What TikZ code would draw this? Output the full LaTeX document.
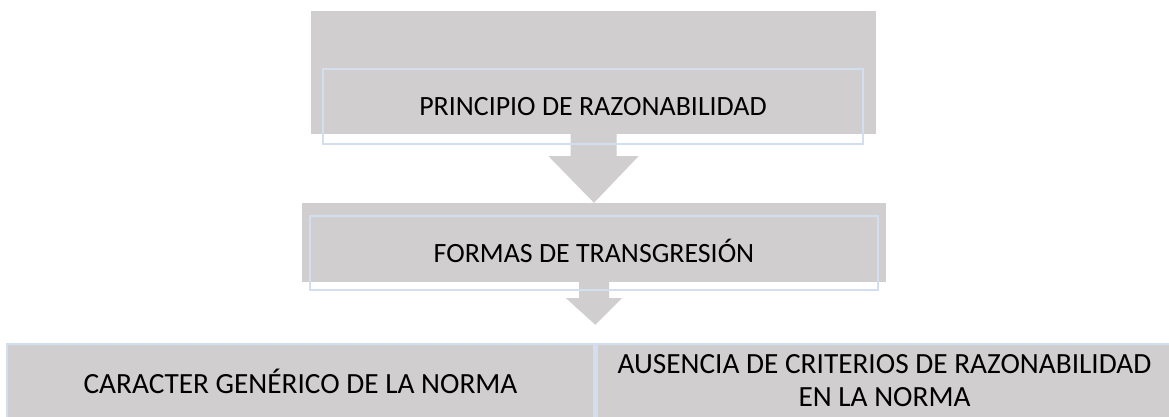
\documentclass[tikz,border=0pt]{standalone}
\usepackage{fontspec}
\setmainfont{Carlito}
\usetikzlibrary{positioning, calc}
\definecolor{boxgray}{HTML}{D0CECE}
\definecolor{lineblue}{HTML}{D3DEEE}
\tikzset{
  graybox/.style={fill=boxgray, draw=none, inner sep=0pt},
  textframe/.style={draw=lineblue, line width=2.5pt, inner sep=0pt, text height=18pt, text depth=0pt,
    font=\fontsize{27.9}{32}\selectfont},
  cellbox/.style={fill=boxgray, draw=lineblue, line width=2.5pt, inner sep=0pt, align=center,
    font=\fontsize{29.3}{33}\selectfont}
}

\begin{document}
\begin{tikzpicture}[x=1pt,y=-1pt]
\useasboundingbox (0,0) rectangle (1169,416);
% gray blocks
\node[graybox, minimum width=565pt, minimum height=123pt] (razon) at (593.5,72.5) {};
\node[graybox, minimum width=584pt, minimum height=79pt] (forma) at (594,242.5) {};
\node[cellbox, minimum width=587pt, minimum height=74pt] (cellleft) at (300.5,381) {CARACTER GENÉRICO DE LA NORMA};
\node[cellbox, minimum width=576pt, minimum height=74pt, right=0pt of cellleft] (cellright) {AUSENCIA DE CRITERIOS DE RAZONABILIDAD\\EN LA NORMA};
\coordinate (tip) at ($(cellleft.north east)+(0,-18)$);
% block arrows
\fill[boxgray] ($(razon.south)+(-23,0)$) -- ($(razon.south)+(23,0)$) -- ($(razon.south)+(23,22)$) -- ($(razon.south)+(45,22)$)
  -- (forma.north) -- ($(razon.south)+(-45,22)$) -- ($(razon.south)+(-23,22)$) -- cycle;
\fill[boxgray] ($(forma.south)+(-15,0)$) -- ($(forma.south)+(15,0)$) -- ($(forma.south)+(15,16)$) -- ($(forma.south)+(28,16)$)
  -- (tip) -- ($(forma.south)+(-28,16)$) -- ($(forma.south)+(-15,16)$) -- cycle;
% text frames
\node[textframe, minimum width=540pt, minimum height=75pt] (razontxt) at (593,106.5) {PRINCIPIO DE RAZONABILIDAD};
\node[textframe, minimum width=568pt, minimum height=74pt] (formatxt) at (594,253) {FORMAS DE TRANSGRESIÓN};
\end{tikzpicture}
\end{document}
